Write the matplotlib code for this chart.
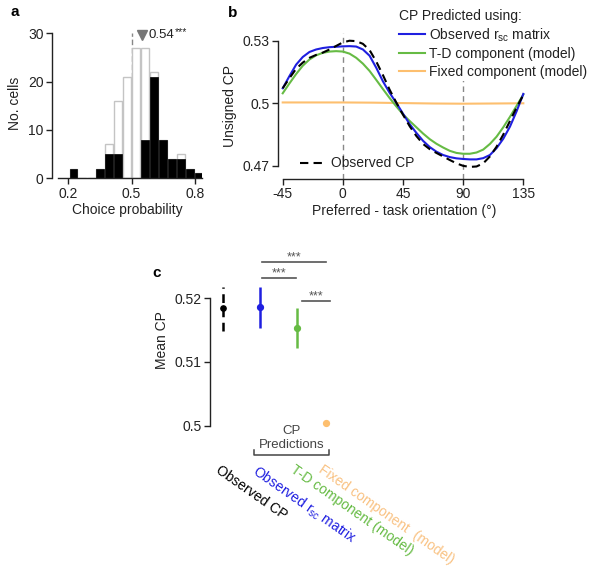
import numpy as np
import matplotlib
matplotlib.use("Agg")
import matplotlib.pyplot as plt

plt.rcParams['font.family'] = ['Liberation Sans', 'DejaVu Sans']
plt.rcParams['mathtext.fontset'] = 'custom'
plt.rcParams['mathtext.rm'] = 'Liberation Sans'
plt.rcParams['mathtext.default'] = 'regular'
plt.rcParams['axes.linewidth'] = 1.0

# ---------------- data ----------------
# panel a: histogram of choice probability
bin_centers = [0.224, 0.266, 0.309, 0.351, 0.394, 0.436, 0.479, 0.521, 0.564,
               0.606, 0.649, 0.691, 0.734, 0.776, 0.819]
all_counts = [2, 0, 0, 2, 7, 16, 21, 27, 27, 22, 8, 4, 5, 2, 1]
sig_counts = [2, 0, 0, 2, 5, 5, 0, 0, 8, 21, 8, 4, 4, 2, 1]
median_cp = 0.55
median_label = "0.54"
median_sig = "***"

# panel b: CP vs preferred - task orientation (degrees)
orient = [-45, -40, -35, -30, -25, -20, -15, -10, -5, 0, 5, 10, 15, 20, 25, 30, 35, 40,
          45, 50, 55, 60, 65, 70, 75, 80, 85, 90, 95, 100, 105, 110, 115, 120, 125, 130, 135]
obs_cp = [0.5072, 0.5120, 0.5165, 0.5195, 0.5218, 0.5232, 0.5243, 0.5258, 0.5275, 0.5292,
          0.5300, 0.5298, 0.5285, 0.5255, 0.5200, 0.5135, 0.5065, 0.5003, 0.4945, 0.4890,
          0.4843, 0.4805, 0.4780, 0.4762, 0.4745, 0.4728, 0.4712, 0.4700, 0.4695, 0.4697,
          0.4712, 0.4745, 0.4792, 0.4850, 0.4915, 0.4980, 0.5040]
rsc_cp = [0.5072, 0.5130, 0.5185, 0.5222, 0.5246, 0.5258, 0.5265, 0.5269, 0.5271, 0.5273,
          0.5274, 0.5272, 0.5258, 0.5228, 0.5170, 0.5105, 0.5050, 0.5002, 0.4950, 0.4900,
          0.4858, 0.4820, 0.4790, 0.4768, 0.4752, 0.4742, 0.4736, 0.4733, 0.4731, 0.4731,
          0.4737, 0.4752, 0.4785, 0.4830, 0.4888, 0.4962, 0.5045]
td_cp = [0.5048, 0.5095, 0.5140, 0.5180, 0.5210, 0.5230, 0.5242, 0.5248, 0.5250, 0.5248,
         0.5238, 0.5218, 0.5190, 0.5155, 0.5112, 0.5068, 0.5025, 0.4985, 0.4947, 0.4915,
         0.4885, 0.4855, 0.4828, 0.4806, 0.4788, 0.4772, 0.4762, 0.4758, 0.4758, 0.4764,
         0.4778, 0.4805, 0.4840, 0.4885, 0.4935, 0.4988, 0.5042]
fixed_deg = [-45, -22.5, 0, 22.5, 45, 67.5, 90, 112.5, 135]
fixed_cp = [0.5004, 0.5004, 0.5004, 0.5003, 0.5001, 0.4999, 0.4998, 0.4999, 0.5000]

# panel c: mean CP
c_labels = ["Observed CP", "Observed r$_{sc}$ matrix", "T-D component (model)",
            "Fixed component  (model)"]
c_mean = [0.5184, 0.5187, 0.5154, 0.5004]
c_low = [0.5149, 0.5154, 0.5122, 0.5004]
c_high = [0.5217, 0.5218, 0.5185, 0.5004]
sig_text = ["***", "***", "***"]

# ---------------- style ----------------
BLUE = '#1f1fe0'
GREEN = '#66bb44'
ORANGE = '#fdbf6f'
ORANGE_TXT = '#f9c283'
GRAY = '#888888'
TXT = '#222222'
c_colors = ['black', BLUE, GREEN, ORANGE]
c_text_colors = ['black', BLUE, GREEN, ORANGE_TXT]
c_pos = [0, 1, 2, 2.76]

W, H = 600, 583
fig = plt.figure(figsize=(6, 5.83), dpi=100)

def fax(l, b, r, t):
    return fig.add_axes([l / W, 1 - b / H, (r - l) / W, (b - t) / H])

FS = 10

def style(ax):
    for s in ['top', 'right']:
        ax.spines[s].set_visible(False)
    ax.tick_params(direction='out', length=4, width=1, labelsize=FS, colors=TXT, pad=2)
    for s in ['left', 'bottom']:
        ax.spines[s].set_color('#222222')

# ---------------- panel a ----------------
axa = fax(52, 178.3, 202, 28.5)
style(axa)
bw = 0.036
axa.bar(bin_centers, all_counts, width=bw, color='white', edgecolor='#c4c4c4', linewidth=1.0)
axa.bar(bin_centers, sig_counts, width=bw, color='black', edgecolor='black', linewidth=0.5)
axa.axvline(0.5, ymin=0, ymax=30 / 31, color=GRAY, ls=(0, (4, 2)), lw=1, zorder=0)
axa.set_xlim(0.1227, 0.8336)
axa.set_ylim(0, 31)
axa.spines['left'].set_bounds(0, 30)
axa.spines['bottom'].set_bounds(0.15, 0.8336)
axa.set_xticks([0.2, 0.5, 0.8])
axa.set_xticklabels(['0.2', '0.5', '0.8'])
axa.set_yticks([0, 10, 20, 30])
axa.set_ylabel('No. cells', fontsize=FS, color=TXT, labelpad=4)
axa.set_xlabel('Choice probability', fontsize=FS, color=TXT, labelpad=2)
axa.plot([median_cp], [29.7], marker='v', color='#777777', markersize=7, clip_on=False,
         linestyle='none')
axa.text(median_cp + 0.03, 29.7, median_label, fontsize=9.5, color=TXT, va='center', ha='left')
axa.text(median_cp + 0.155, 30.2, median_sig, fontsize=7.5, color=TXT, va='center', ha='left')

# ---------------- panel b ----------------
axb = fax(278.3, 179, 530, 33)
style(axb)
axb.axvline(0, color=GRAY, ls=(0, (4, 3)), lw=1, zorder=0)
axb.axvline(90, color=GRAY, ls=(0, (4, 3)), lw=1, zorder=0)
l_fixed, = axb.plot(fixed_deg, fixed_cp, color=ORANGE, lw=1.5)
l_td, = axb.plot(orient, td_cp, color=GREEN, lw=1.5)
l_rsc, = axb.plot(orient, rsc_cp, color=BLUE, lw=1.5)
l_obs, = axb.plot(orient, obs_cp, color='black', lw=1.5, ls=(0, (4, 2.5)))
axb.set_xlim(-48.3, 140)
axb.set_ylim(0.4637, 0.5337)
axb.spines['left'].set_bounds(0.47, 0.53)
axb.spines['bottom'].set_bounds(-45, 135)
axb.set_xticks([-45, 0, 45, 90, 135])
axb.set_xticklabels(['-45', '0', '45', '90', '135'])
axb.set_yticks([0.47, 0.5, 0.53])
axb.set_yticklabels(['0.47', '0.5', '0.53'])
axb.set_ylabel('Unsigned CP', fontsize=FS, color=TXT, labelpad=4)
axb.set_xlabel('Preferred - task orientation (°)', fontsize=FS, color=TXT, labelpad=2)
leg1 = axb.legend([l_rsc, l_td, l_fixed],
                  ['Observed r$_{sc}$ matrix', 'T-D component (model)', 'Fixed component (model)'],
                  title='CP Predicted using:', loc='upper left',
                  bbox_to_anchor=(396 / W, 1 - 6 / H), bbox_transform=fig.transFigure,
                  fontsize=FS, title_fontsize=FS, frameon=True, facecolor='white',
                  edgecolor='none', framealpha=1, borderpad=0.2, borderaxespad=0,
                  handlelength=1.9, handletextpad=0.3, labelspacing=0.25, alignment='left')
for t in leg1.get_texts():
    t.set_color(TXT)
leg1.get_title().set_color(TXT)
axb.add_artist(leg1)
leg2 = axb.legend([l_obs], ['Observed CP'], loc='center left',
                  bbox_to_anchor=(300 / W, 1 - 163.5 / H), bbox_transform=fig.transFigure,
                  fontsize=FS, frameon=False, borderpad=0, borderaxespad=0,
                  handlelength=1.8, handletextpad=0.45)
for t in leg2.get_texts():
    t.set_color(TXT)

# ---------------- panel c ----------------
axc = fax(210, 430, 345, 250)
style(axc)
axc.spines['bottom'].set_visible(False)
axc.set_xticks([])
axc.set_xlim(-0.34, 3.28)
axc.set_ylim(0.49932, 0.52758)
axc.spines['left'].set_bounds(0.5, 0.52)
axc.set_yticks([0.5, 0.51, 0.52])
axc.set_yticklabels(['0.5', '0.51', '0.52'])
axc.set_ylabel('Mean CP', fontsize=FS, color=TXT, labelpad=4)
for i in range(len(c_mean)):
    ls = (0, (3.5, 2.2)) if i == 0 else '-'
    axc.plot([c_pos[i], c_pos[i]], [c_low[i], c_high[i]], color=c_colors[i], lw=1.8, ls=ls,
             solid_capstyle='butt')
    axc.plot([c_pos[i]], [c_mean[i]], marker='o', color=c_colors[i],
             markersize=4.2 if i else 3.8, linestyle='none', clip_on=False)

sig_y = [0.52565, 0.52314, 0.51962]
sig_x = [(c_pos[1] + 0.05, c_pos[3]), (c_pos[1] + 0.05, c_pos[2] - 0.03),
         (c_pos[2] + 0.14, c_pos[3] + 0.13)]
for (x0, x1), y, s in zip(sig_x, sig_y, sig_text):
    axc.plot([x0, x1], [y, y], color='#555555', lw=1.2, clip_on=False)
    axc.text((x0 + x1) / 2, y - 0.0002, s, fontsize=9, color='#555555', ha='center',
             va='bottom')

# bracket for predictions
bx0, bx1 = 0.847, 2.84
by, byt = 0.4954, 0.49615
axc.plot([bx0, bx0, bx1, bx1], [byt, by, by, byt], color='#444444', lw=1.1, clip_on=False)
axc.text((bx0 + bx1) / 2, 0.49805, 'CP\nPredictions', fontsize=9.5, color='#444444',
         ha='center', va='center', linespacing=1.15)

for i, lab in enumerate(c_labels):
    axc.text(c_pos[i] - 0.03, 0.49414, lab, rotation=-35, rotation_mode='anchor',
             ha='left', va='top', fontsize=10, color=c_text_colors[i], clip_on=False)

# panel letters
fig.text(15 / W, 1 - 12 / H, 'a', fontsize=11, fontweight='bold', ha='center', va='center')
fig.text(233 / W, 1 - 13 / H, 'b', fontsize=11, fontweight='bold', ha='center', va='center')
fig.text(157 / W, 1 - 273 / H, 'c', fontsize=11, fontweight='bold', ha='center', va='center')

fig.savefig('out.png', dpi=100)
